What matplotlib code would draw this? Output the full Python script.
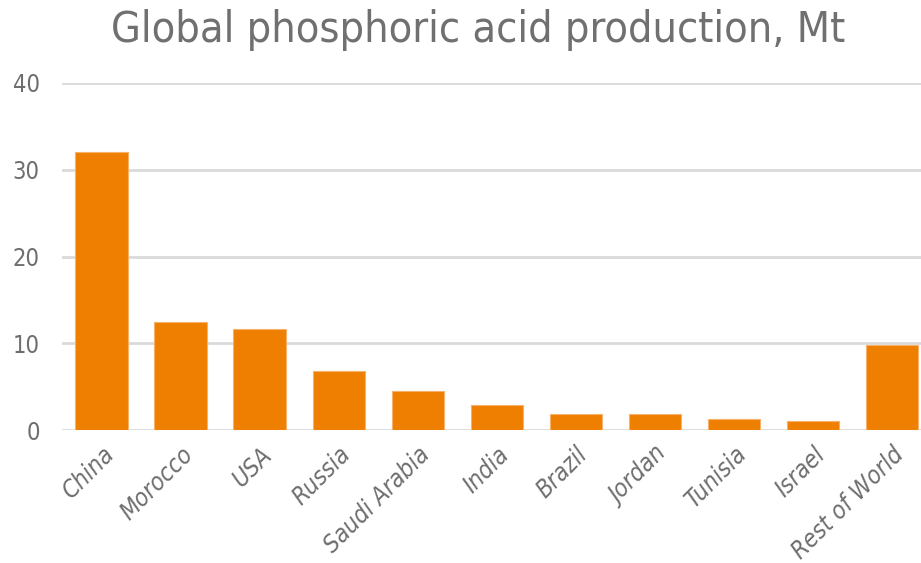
import numpy as np
from matplotlib import pyplot as plt

countries = ["China", "Morocco", "USA", "Russia", "Saudi Arabia", "India",
             "Brazil", "Jordan", "Tunisia", "Israel", "Rest of World"]
production = [32.1, 12.4, 11.6, 6.75, 4.45, 2.9, 1.85, 1.8, 1.3, 1.0, 9.85]
yticks = [0, 10, 20, 30, 40]

plt.rcParams["font.family"] = ["DejaVu Sans"]

fig = plt.figure(figsize=(9.21, 5.63), dpi=100)
ax = fig.add_axes([62 / 921, 1 - 430 / 563, 1 - 62 / 921, (430 - 83) / 563])

X = np.arange(len(countries))
ax.bar(X, production, width=0.66, color="#EF7F00", edgecolor="#F6B26B",
       linewidth=0.8, zorder=3)

ax.set_xlim(-0.5, 10.37)
ax.set_ylim(0, 40)
ax.set_yticks(yticks)
ax.set_yticklabels([str(t) for t in yticks], fontsize=17, color="#6E6E6E",
                   fontstretch="condensed")
ax.yaxis.grid(True, color="#DADADA", linewidth=2)
ax.set_axisbelow(True)
ax.tick_params(axis="both", length=0)
ax.tick_params(axis="y", pad=16)

ax.set_xticks(X)
ax.set_xticklabels(countries, rotation=45, ha="right", rotation_mode="anchor",
                   fontsize=17.5, color="#6E6E6E", style="italic",
                   fontstretch="condensed")
ax.tick_params(axis="x", pad=9)

for s in ax.spines.values():
    s.set_visible(False)

fig.text(478 / 921, 1 - 30 / 563, "Global phosphoric acid production, Mt",
         ha="center", va="center", fontsize=31, color="#707070",
         fontstretch="condensed")

fig.savefig("out.png", dpi=100)
